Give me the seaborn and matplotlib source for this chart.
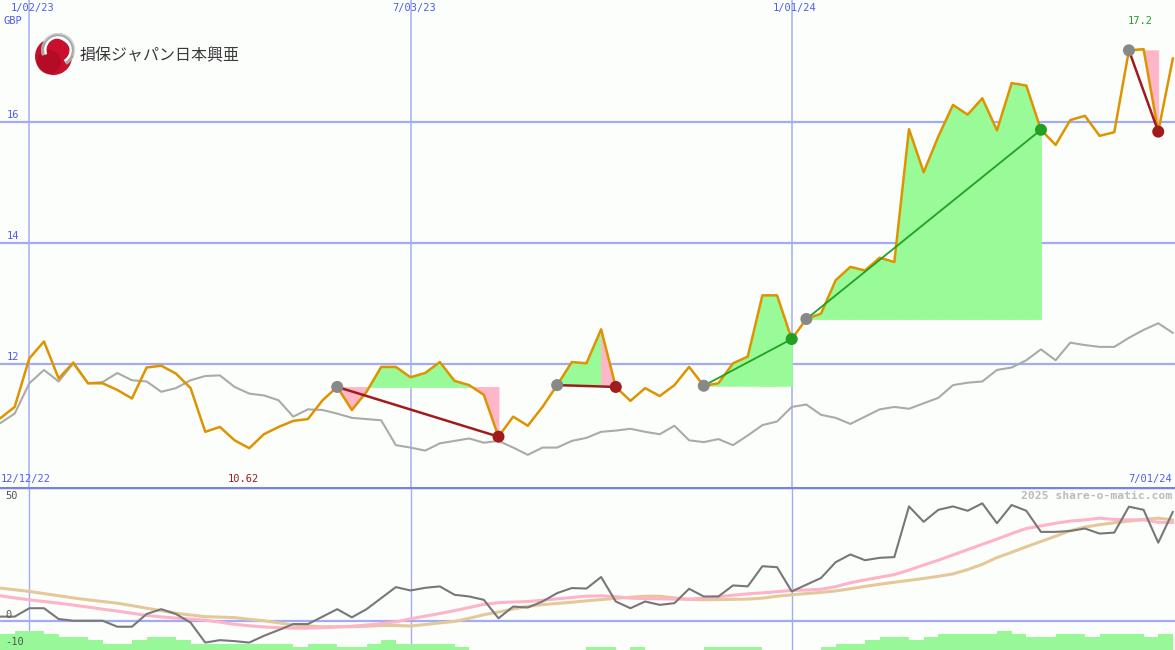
import numpy as np
import pandas as pd
import seaborn as sns
import matplotlib.pyplot as plt
from matplotlib.patches import Circle, Wedge

# weekly closes, GBP (12/19/22 .. 7/01/24)
price = [11.11, 11.30, 12.10, 12.38, 11.77, 12.03, 11.69, 11.69, 11.58, 11.44,
         11.95, 11.98, 11.85, 11.61, 10.89, 10.97, 10.75, 10.62, 10.85, 10.97,
         11.07, 11.10, 11.41, 11.63, 11.25, 11.55, 11.96, 11.96, 11.79, 11.86,
         12.04, 11.73, 11.66, 11.50, 10.81, 11.14, 10.99, 11.30, 11.66, 12.04,
         12.02, 12.58, 11.63, 11.40, 11.61, 11.48, 11.66, 11.96, 11.65, 11.69,
         12.02, 12.13, 13.14, 13.14, 12.42, 12.75, 12.84, 13.39, 13.61, 13.55,
         13.76, 13.69, 15.88, 15.17, 15.76, 16.28, 16.12, 16.39, 15.86, 16.64,
         16.60, 15.87, 15.62, 16.03, 16.10, 15.77, 15.83, 17.18, 17.20, 15.84,
         17.05]

# comparison index, rebased
index_line = [11.03, 11.19, 11.69, 11.91, 11.72, 12.02, 11.69, 11.71, 11.86, 11.74,
              11.72, 11.55, 11.61, 11.74, 11.81, 11.82, 11.63, 11.52, 11.49, 11.41,
              11.14, 11.26, 11.25, 11.19, 11.12, 11.10, 11.08, 10.67, 10.63, 10.58,
              10.70, 10.74, 10.78, 10.71, 10.74, 10.63, 10.51, 10.63, 10.63, 10.74,
              10.79, 10.89, 10.91, 10.94, 10.89, 10.85, 10.99, 10.75, 10.72, 10.77,
              10.67, 10.83, 11.00, 11.06, 11.30, 11.34, 11.17, 11.12, 11.02, 11.14,
              11.26, 11.30, 11.27, 11.36, 11.45, 11.66, 11.70, 11.72, 11.91, 11.95,
              12.07, 12.25, 12.07, 12.36, 12.32, 12.29, 12.29, 12.44, 12.57, 12.68,
              12.52]

momentum = [1.7, 1.7, 5.2, 5.2, 0.7, 0.0, 0.0, 0.0, -2.5, -2.5,
            2.8, 4.8, 2.8, -0.8, -9.1, -8.1, -8.5, -9.1, -6.3, -3.9,
            -1.4, -1.4, 1.7, 4.8, 1.4, 4.8, 9.4, 14.0, 12.6, 13.7,
            14.3, 10.8, 10.1, 8.7, 1.0, 5.9, 5.5, 8.0, 11.5, 13.6,
            13.4, 18.2, 8.0, 5.2, 8.0, 6.6, 7.3, 13.3, 10.1, 10.1,
            14.7, 14.3, 22.7, 22.3, 12.2, 15.0, 17.8, 24.4, 27.6, 25.2,
            26.2, 26.5, 47.6, 41.2, 46.2, 47.6, 45.8, 48.9, 40.6, 48.2,
            45.8, 37.0, 37.0, 37.4, 38.4, 36.3, 36.7, 47.5, 46.2, 32.5,
            45.4]

ma_fast = [10.4, 9.5, 8.7, 8.0, 7.3, 6.5, 5.7, 4.8, 4.0, 3.1,
           2.2, 1.6, 1.1, 0.7, 0.2, -0.6, -1.5, -2.1, -2.6, -2.9,
           -3.1, -3.1, -2.9, -2.6, -2.3, -1.8, -1.2, -0.5, 0.8, 1.9,
           3.0, 4.2, 5.5, 6.8, 7.5, 7.8, 8.0, 8.5, 9.1, 9.7,
           10.2, 10.4, 10.0, 9.4, 9.2, 9.1, 9.0, 9.0, 9.4, 10.0,
           10.6, 11.2, 11.6, 12.1, 12.6, 12.8, 13.1, 14.2, 15.8, 17.0,
           18.1, 19.2, 21.1, 23.2, 25.2, 27.4, 29.6, 31.8, 34.0, 36.3,
           38.4, 39.5, 40.6, 41.5, 42.0, 42.7, 42.2, 42.0, 42.0, 41.0,
           40.9]

ma_slow = [13.6, 12.9, 12.2, 11.3, 10.4, 9.5, 8.7, 8.0, 7.3, 6.3,
           5.2, 4.2, 3.1, 2.4, 1.7, 1.5, 1.3, 0.6, 0.0, -0.9,
           -1.8, -2.2, -2.5, -2.5, -2.5, -2.3, -2.0, -2.0, -2.2, -1.6,
           -0.9, -0.3, 1.0, 2.5, 3.6, 4.9, 6.0, 6.7, 7.2, 7.7,
           8.3, 8.8, 9.3, 9.8, 10.2, 10.2, 9.5, 8.9, 8.7, 8.8,
           8.9, 9.0, 9.4, 10.2, 10.8, 11.3, 11.8, 12.4, 13.3, 14.3,
           15.2, 16.0, 16.8, 17.6, 18.5, 19.5, 21.3, 23.5, 26.3, 28.5,
           30.8, 33.0, 35.2, 37.5, 39.0, 40.0, 40.8, 41.5, 42.2, 42.7,
           42.0]

volume = [5, 6, 6, 5, 4, 4, 3, 2, 2, 3,
          4, 4, 3, 2, 2, 2, 2, 2, 2, 2,
          1, 2, 2, 1, 1, 2, 3, 2, 2, 2,
          2, 1, 0, 0, 0, 0, 0, 0, 0, 0,
          1, 1, 0, 1, 0, 0, 0, 0, 1, 1,
          1, 1, 0, 0, 0, 0, 1, 2, 2, 3,
          4, 4, 3, 4, 5, 5, 5, 5, 6, 5,
          4, 4, 5, 5, 4, 5, 5, 5, 4, 5,
          5]

# (entry week, exit week)
trades = [(23, 34), (38, 42), (48, 54), (55, 71), (77, 79)]

dates = pd.date_range('2022-12-19', periods=len(price), freq='7D')
df = pd.DataFrame({'date': dates, 'price': price, 'index': index_line,
                   'mom': momentum, 'fast': ma_fast, 'slow': ma_slow, 'vol': volume})

sns.set_style('white')
plt.rcParams['font.family'] = ['DejaVu Sans Mono', 'Noto Sans CJK JP']

W, H = 1175, 650
BG = '#fcfefc'
GRID = '#a3acf3'
BLUE = '#4d5cf0'
fig = plt.figure(figsize=(W / 100, H / 100), dpi=100, facecolor=BG)
ax = fig.add_axes([0, 163 / H, 1, 487 / H])
ax2 = fig.add_axes([0, 0, 1, 163 / H])
ax3 = ax2.twinx()
ax2.set_zorder(ax3.get_zorder() + 1)
for a in (ax, ax2, ax3):
    a.patch.set_visible(False)
    for s in a.spines.values():
        s.set_visible(False)

x0, x1 = dates[0], dates[-1] + pd.Timedelta(days=1)
vlines = pd.to_datetime(['2023-01-02', '2023-07-03', '2024-01-01'])

# ---- main panel
ax.set_xlim(x0, x1)
ax.set_ylim(9.98, 18.01)
for v in (12, 14, 16):
    ax.axhline(v, color=GRID, lw=1.6, zorder=0)
for d in vlines:
    ax.axvline(d, color=GRID, lw=1.1, zorder=0)

# shaded gain / loss against the entry level of each trade
for e, x in trades:
    lvl = price[e]
    for k in range(e, x):
        c = '#98fb98' if price[k + 1] >= lvl else '#ffb6c8'
        ax.fill_between(dates[k:k + 2], price[k:k + 2], lvl, color=c, lw=0.6,
                        edgecolor=c, antialiased=False, zorder=1)

sns.lineplot(data=df, x='date', y='index', ax=ax, color='#aaaaaa', lw=1.5, zorder=2)
sns.lineplot(data=df, x='date', y='price', ax=ax, color='#dd9400', lw=1.8, zorder=3)

for e, x in trades:
    win = price[x] > price[e]
    lc = '#22a022' if win else '#a01c1c'
    seg = df.iloc[[e, x]]
    sns.lineplot(data=seg, x='date', y='price', ax=ax, color=lc, lw=1.3 if win else 1.8, zorder=4)
    sns.scatterplot(data=df.iloc[[e]], x='date', y='price', ax=ax, color='#888888',
                    s=75, edgecolor='none', zorder=5)
    sns.scatterplot(data=df.iloc[[x]], x='date', y='price', ax=ax, color=lc,
                    s=75, edgecolor='none', zorder=5)

# ---- lower panel
ax2.set_xlim(x0, x1)
ax2.set_ylim(-12.2, 55.7)
ax3.set_xlim(x0, x1)
ax3.set_ylim(0, 51)
for d in vlines:
    ax3.axvline(d, color=GRID, lw=1.0, zorder=0)
ax3.fill_between(df['date'], df['vol'], step='post', color='#98f898', lw=0, zorder=1)
ax2.axhline(0, color=GRID, lw=1.6, zorder=0)
sns.lineplot(data=df, x='date', y='slow', ax=ax2, color='#e3c99a', lw=2.2, zorder=2)
sns.lineplot(data=df, x='date', y='fast', ax=ax2, color='#ffb3c8', lw=2.2, zorder=2)
sns.lineplot(data=df, x='date', y='mom', ax=ax2, color='#777777', lw=1.5, zorder=3)
ax2.axhline(55.7, color='#7682ea', lw=2.5, zorder=4)

for a in (ax, ax2, ax3):
    a.set_xlabel('')
    a.set_ylabel('')
    a.set_yticks([])
    a.set_xticks([])


def t(x, y, s, **kw):
    fig.text(x / W, 1 - y / H, s, va='center', **kw)


fs = 7.5
t(33, 8, '1/02/23', color=BLUE, fontsize=fs, ha='center')
t(414, 8, '7/03/23', color=BLUE, fontsize=fs, ha='center')
t(795, 8, '1/01/24', color=BLUE, fontsize=fs, ha='center')
t(4, 21, 'GBP', color=BLUE, fontsize=fs)
t(7, 115, '16', color=BLUE, fontsize=fs)
t(7, 236, '14', color=BLUE, fontsize=fs)
t(7, 357, '12', color=BLUE, fontsize=fs)
t(1140, 21, '17.2', color='#22a022', fontsize=fs, ha='center')
t(243, 479, '10.62', color='#a01c1c', fontsize=fs, ha='center')
t(1, 479, '12/12/22', color=BLUE, fontsize=fs)
t(1172, 479, '7/01/24', color=BLUE, fontsize=fs, ha='right')
t(5, 496, '50', color='#555555', fontsize=fs)
t(5, 615, '0', color='#555555', fontsize=fs)
t(5, 642, '-10', color='#555555', fontsize=fs)
t(1172, 496, '2025 share-o-matic.com', color='#bbbbbb', fontsize=8.2,
  ha='right', fontweight='bold')
t(80, 56, '損保ジャパン日本興亜', color='#3a3a3a', fontsize=11.5,
  family=['Noto Sans CJK JP', 'DejaVu Sans'])

# logo mark: red ball with a silver ring round its upper right
lax = fig.add_axes([30 / W, 1 - 80 / H, 50 / W, 52 / H])
lax.set_xlim(30, 80)
lax.set_ylim(80, 28)
lax.axis('off')
lax.add_patch(Circle((53.5, 56.5), 18.5, color='#c8102e', lw=0))
lax.add_patch(Circle((49, 62), 12, color='#9c0820', lw=0, alpha=0.45))
lax.add_patch(Wedge((58, 50), 15, -200, 60, width=3.5, color='#ffffff', lw=0))
lax.add_patch(Wedge((58, 50), 17, -200, 60, width=3.2, color='#a8a8a8', lw=0))
lax.add_patch(Wedge((58, 50), 17, -150, 20, width=1.2, color='#d8d8d8', lw=0))

fig.savefig('out.png', dpi=100, facecolor=BG)
